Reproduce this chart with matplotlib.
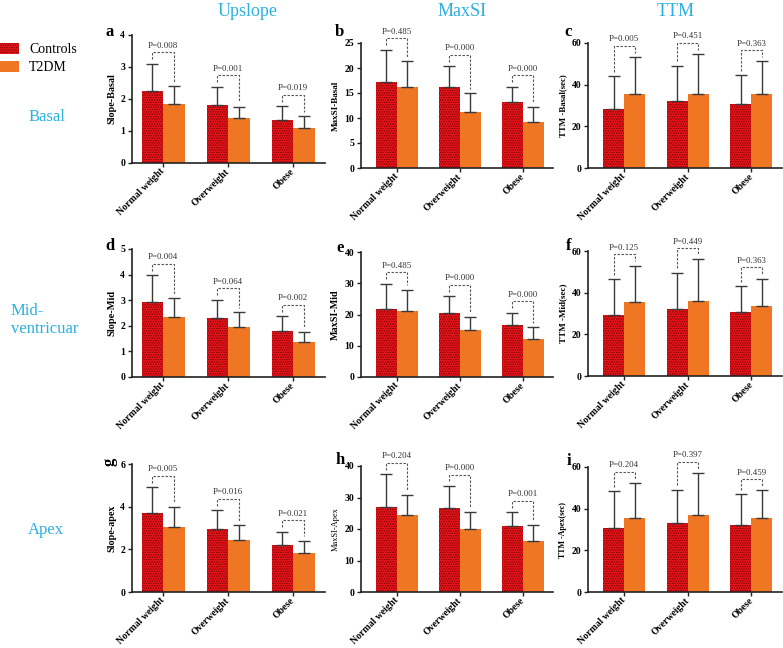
import numpy as np
import matplotlib
matplotlib.use("Agg")
import matplotlib.pyplot as plt
import matplotlib.transforms as mtrans

plt.rcParams['font.family'] = 'serif'
plt.rcParams['font.serif'] = ['Liberation Serif', 'DejaVu Serif']
plt.rcParams['hatch.linewidth'] = 0.7

# groups and values (mean, SD; SD only drawn upward)
groups = ["Normal weight", "Overweight", "Obese"]

slope_basal_ctrl = [2.25, 1.82, 1.35]
slope_basal_ctrl_sd = [0.85, 0.56, 0.43]
slope_basal_t2dm = [1.85, 1.40, 1.10]
slope_basal_t2dm_sd = [0.55, 0.36, 0.36]
slope_basal_p = ["0.008", "0.001", "0.019"]

maxsi_basal_ctrl = [17.2, 16.2, 13.2]
maxsi_basal_ctrl_sd = [6.5, 4.2, 3.1]
maxsi_basal_t2dm = [16.3, 11.2, 9.3]
maxsi_basal_t2dm_sd = [5.1, 3.8, 3.0]
maxsi_basal_p = ["0.485", "0.000", "0.000"]

ttm_basal_ctrl = [28.2, 32.3, 30.7]
ttm_basal_ctrl_sd = [15.8, 16.8, 13.8]
ttm_basal_t2dm = [35.5, 35.7, 35.4]
ttm_basal_t2dm_sd = [17.8, 18.9, 15.8]
ttm_basal_p = ["0.005", "0.451", "0.363"]

slope_mid_ctrl = [2.93, 2.29, 1.78]
slope_mid_ctrl_sd = [1.04, 0.73, 0.60]
slope_mid_t2dm = [2.36, 1.97, 1.35]
slope_mid_t2dm_sd = [0.71, 0.56, 0.41]
slope_mid_p = ["0.004", "0.064", "0.002"]

maxsi_mid_ctrl = [21.9, 20.5, 16.5]
maxsi_mid_ctrl_sd = [8.0, 5.4, 4.1]
maxsi_mid_t2dm = [21.2, 14.9, 12.2]
maxsi_mid_t2dm_sd = [6.7, 4.3, 3.8]
maxsi_mid_p = ["0.485", "0.000", "0.000"]

ttm_mid_ctrl = [29.5, 32.2, 30.5]
ttm_mid_ctrl_sd = [17.1, 17.4, 12.7]
ttm_mid_t2dm = [35.4, 35.9, 33.6]
ttm_mid_t2dm_sd = [17.6, 20.1, 13.2]
ttm_mid_p = ["0.125", "0.449", "0.363"]

slope_apex_ctrl = [3.70, 2.97, 2.19]
slope_apex_ctrl_sd = [1.20, 0.86, 0.64]
slope_apex_t2dm = [3.05, 2.44, 1.81]
slope_apex_t2dm_sd = [0.93, 0.70, 0.60]
slope_apex_p = ["0.005", "0.016", "0.021"]

maxsi_apex_ctrl = [27.0, 26.8, 20.8]
maxsi_apex_ctrl_sd = [10.4, 6.9, 4.6]
maxsi_apex_t2dm = [24.6, 20.0, 16.2]
maxsi_apex_t2dm_sd = [6.2, 5.3, 5.1]
maxsi_apex_p = ["0.204", "0.000", "0.001"]

ttm_apex_ctrl = [30.6, 32.9, 32.4]
ttm_apex_ctrl_sd = [17.7, 16.2, 14.6]
ttm_apex_t2dm = [35.4, 37.0, 35.4]
ttm_apex_t2dm_sd = [16.9, 20.1, 13.4]
ttm_apex_p = ["0.204", "0.397", "0.459"]

RED = '#E8161C'
DOTS = '#7a0000'
ORANGE = '#EF7622'
CYAN = '#2BB0E0'

W, H = 783, 648
fig = plt.figure(figsize=(W / 100, H / 100), dpi=100)


def rect(l, t, w, h):
    return [l / W, 1 - (t + h) / H, w / W, h / H]


panels = [
    # letter, box(px), ylim top, tick step, ylabel, label size, label weight, data
    ('a', (132, 35, 193, 128), 4, 1, 'Slope-Basal', 7.3, 'bold',
     slope_basal_ctrl, slope_basal_ctrl_sd, slope_basal_t2dm, slope_basal_t2dm_sd, slope_basal_p),
    ('b', (361, 43, 192, 125), 25, 5, 'MaxSI-Basal', 6.6, 'bold',
     maxsi_basal_ctrl, maxsi_basal_ctrl_sd, maxsi_basal_t2dm, maxsi_basal_t2dm_sd, maxsi_basal_p),
    ('c', (588, 43, 194, 125), 60, 20, 'TTM -Basal(sec)', 6.4, 'bold',
     ttm_basal_ctrl, ttm_basal_ctrl_sd, ttm_basal_t2dm, ttm_basal_t2dm_sd, ttm_basal_p),
    ('d', (132, 249, 193, 128), 5, 1, 'Slope-Mid', 7.5, 'bold',
     slope_mid_ctrl, slope_mid_ctrl_sd, slope_mid_t2dm, slope_mid_t2dm_sd, slope_mid_p),
    ('e', (361, 252, 192, 125), 40, 10, 'MaxSI-Mid', 7.3, 'bold',
     maxsi_mid_ctrl, maxsi_mid_ctrl_sd, maxsi_mid_t2dm, maxsi_mid_t2dm_sd, maxsi_mid_p),
    ('f', (588, 251, 194, 125), 60, 20, 'TTM -Mid(sec)', 6.6, 'bold',
     ttm_mid_ctrl, ttm_mid_ctrl_sd, ttm_mid_t2dm, ttm_mid_t2dm_sd, ttm_mid_p),
    ('g', (132, 464, 193, 128), 6, 2, 'Slope-apex', 7.3, 'bold',
     slope_apex_ctrl, slope_apex_ctrl_sd, slope_apex_t2dm, slope_apex_t2dm_sd, slope_apex_p),
    ('h', (361, 466, 192, 126), 40, 10, 'MaxSI-Apex', 6.0, 'normal',
     maxsi_apex_ctrl, maxsi_apex_ctrl_sd, maxsi_apex_t2dm, maxsi_apex_t2dm_sd, maxsi_apex_p),
    ('i', (588, 467, 194, 125), 60, 20, 'TTM -Apex(sec)', 5.8, 'bold',
     ttm_apex_ctrl, ttm_apex_ctrl_sd, ttm_apex_t2dm, ttm_apex_t2dm_sd, ttm_apex_p),
]

letter_pos = {'a': (110, 32), 'b': (339, 32), 'c': (568, 32),
              'd': (110, 246), 'e': (340, 248), 'f': (569, 246),
              'g': (110, 462), 'h': (340, 460), 'i': (569, 461)}

x = np.arange(len(groups))
bw = 0.33
handles = None
label_shift = mtrans.ScaledTranslation(4 / 100, 0, fig.dpi_scale_trans)
for k, (letter, box, ytop, step, ylab, lsize, lweight, c, csd, t, tsd, pv) in enumerate(panels):
    ax = fig.add_axes(rect(*box))
    col = k % 3
    ekw = dict(ecolor='#3a3a3a', elinewidth=1.0, capsize=4.3, capthick=1.0)
    b1 = ax.bar(x - bw / 2, c, bw, color=RED, edgecolor=DOTS, linewidth=0,
                hatch='.......', yerr=[np.zeros(3), csd], error_kw=ekw, zorder=2)
    b2 = ax.bar(x + bw / 2, t, bw, color=ORANGE, edgecolor=ORANGE, linewidth=0,
                yerr=[np.zeros(3), tsd], error_kw=ekw, zorder=2)
    if handles is None:
        handles = [b1, b2]

    if col == 0:
        ax.set_xlim(-0.48, 2.49)
    else:
        ax.set_xlim(-0.57, 2.48)
    ax.set_ylim(0, ytop)
    ax.set_yticks(np.arange(0, ytop + step / 2, step))
    ax.set_xticks(x)
    ax.set_xticklabels(groups, rotation=45, ha='right', va='center',
                       rotation_mode='anchor', fontsize=7, fontweight='bold')
    for lab in ax.get_xticklabels():
        lab.set_transform(lab.get_transform() + label_shift)
    for lab in ax.get_yticklabels():
        lab.set_fontsize(7)
        lab.set_fontweight('bold')
    ax.set_ylabel(ylab, fontsize=lsize, fontweight=lweight, labelpad=3)
    for s in ['top', 'right']:
        ax.spines[s].set_visible(False)
    for s in ['left', 'bottom']:
        ax.spines[s].set_linewidth(1.2)
        ax.spines[s].set_color('#222222')
    ax.tick_params(axis='both', direction='out', length=3, width=1.0,
                   color='#222222', pad=2)

    # dashed P-value brackets
    for i in range(3):
        xl, xr = i - bw / 2, i + bw / 2
        tl, tr = c[i] + csd[i], t[i] + tsd[i]
        top = max(tl, tr) + 0.09 * ytop
        gap = 0.035 * ytop
        ax.plot([xl, xl, xr, xr], [tl + gap, top, top, tr + gap],
                ls=(0, (2.2, 1.4)), color='#555555', lw=0.8, clip_on=False)
        ax.text(i, top + 0.02 * ytop, 'P=' + pv[i], ha='center', va='bottom',
                fontsize=6.4, color='#333333')

    lx, ly = letter_pos[letter]
    fig.text(lx / W, 1 - ly / H, letter, ha='center', va='center',
             fontsize=12, fontweight='bold', rotation=90 if letter == 'g' else 0)

# column and row headings
for txt, px in [('Upslope', 248), ('MaxSI', 462), ('TTM', 676)]:
    fig.text(px / W, 1 - 12 / H, txt, ha='center', va='center', fontsize=13, color=CYAN)
fig.text(47 / W, 1 - 117 / H, 'Basal', ha='center', va='center', fontsize=12, color=CYAN)
fig.text(11 / W, 1 - 320 / H, 'Mid-\nventricuar', ha='left', va='center', fontsize=12,
         color=CYAN, linespacing=1.1)
fig.text(46 / W, 1 - 530 / H, 'Apex', ha='center', va='center', fontsize=12, color=CYAN)

fig.legend(handles, ['Controls', 'T2DM'], loc='upper left',
           bbox_to_anchor=(0, 1 - 43 / H), frameon=False, fontsize=10,
           handlelength=1.4, handleheight=0.8, handletextpad=0.7,
           labelspacing=0.35, borderpad=0, borderaxespad=0)

fig.savefig('out.png', dpi=100)
